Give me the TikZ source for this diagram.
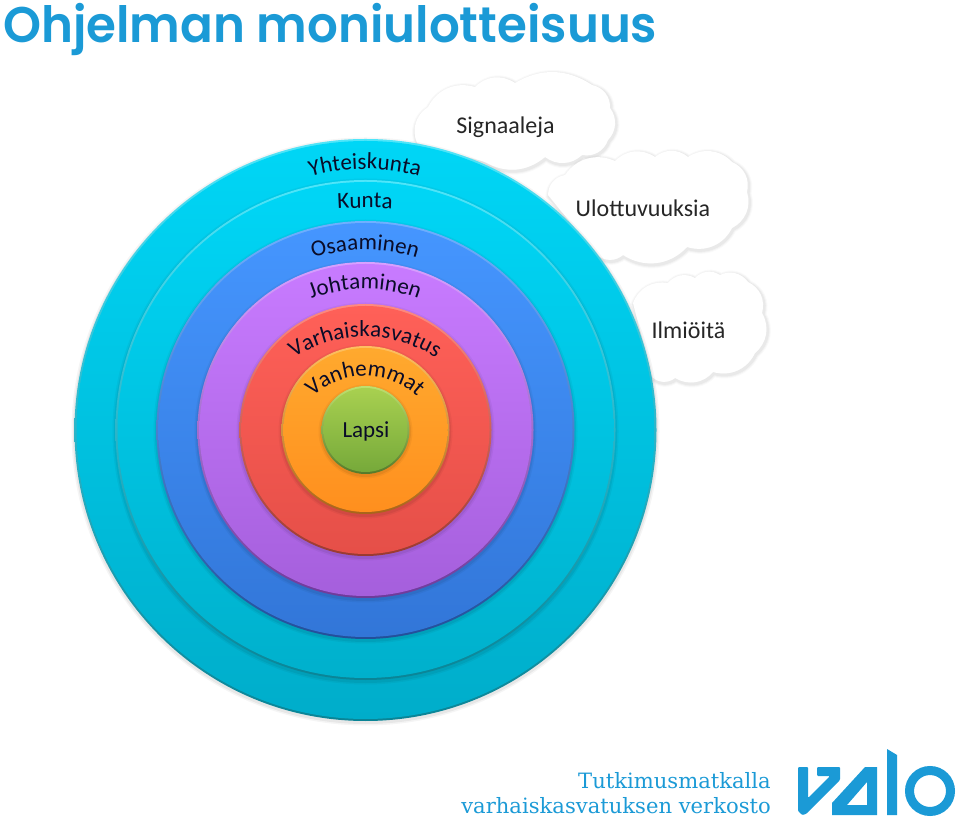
\documentclass[tikz,border=0pt]{standalone}
\usepackage{fontspec}
\usetikzlibrary{decorations.text}
\setmainfont{Carlito}
\newfontfamily\titlefont{Poppins SemiBold}
\newfontfamily\footfont{DejaVu Serif}
\definecolor{valoblue}{HTML}{1B9AD6}
\definecolor{labelink}{HTML}{0A0C28}
\tikzset{
  puff/.style={bend left=40},
  cloudtext/.style={black!85,font=\fontsize{24}{28}\selectfont,anchor=base},
  foottext/.style={valoblue,anchor=base east,inner sep=0pt,font=\footfont\fontsize{21.1}{24}\selectfont}
}
\newcommand{\cloudshape}[1]{
  \foreach \sw/\so in {7pt/0.02,5pt/0.03,3pt/0.04}
    \draw[black,line width=\sw,opacity=\so,shift={(1,-1.5)}] #1;
  \fill[white] #1;
}
\newcommand{\ringlabel}[3]{
  \path[decorate,decoration={text along path,text align=center,
    text={|\fontsize{23}{26}\selectfont\color{labelink}|#3}}]
    (365,#1-#2)+(150:#2) arc[start angle=150,end angle=30,radius=#2];
}
\begin{document}
\begin{tikzpicture}[x=1pt,y=1pt]
\useasboundingbox (0,0) rectangle (960,819);
\node[valoblue,anchor=base west,inner sep=0pt,xscale=0.967,font=\titlefont\fontsize{50}{60}\selectfont] (title) at (3,776) {Ohjelman moniulotteisuus};
% clouds behind the rings
\cloudshape{(417,676) to[puff] (428,712) to[puff] (475,732) to[puff] (515,736) to[bend left=32] (592,734) to[puff] (610,711) to[puff] (608,679) to[puff] (582,664) to[puff] (545,662) to[bend left=35] (485,657) -- cycle}
\cloudshape{(548,624) to[puff] (565,644) to[puff] (615,658) to[puff] (655,662) to[puff] (688,662) to[puff] (732,657) to[puff] (747,627) to[puff] (732,591) to[puff] (687,572) to[puff] (623,564) to[puff] (597,564) -- cycle}
\cloudshape{(633,516) to[puff] (668,536) to[puff] (695,541) to[puff] (720,544) to[puff] (748,537) to[puff] (762,506) to[puff] (755,466) to[puff] (713,447) to[puff] (675,441) to[puff] (652,442) -- cycle}
\node[cloudtext] (signals) at (505.5,685) {Signaaleja};
\node[cloudtext] (dimensions) at (643,602) {Ulottuvuuksia};
\node[cloudtext] (phenomena) at (688.5,480) {Ilmiöitä};
% rings, outermost first
\foreach \rad/\lite/\tone/\deep/\edge in {
  291/4FE6FA/00D6F6/00ADCA/0A8496,
  250/4FE6FA/00D6F6/00B0CC/0A8496,
  209/6FB0FF/4596FF/3276D8/234F9A,
  168/D8A0FF/C87BFF/A55FDC/6E3A9A,
  126/FF8A80/FF6058/E54F48/9A3A30,
  84/FFC060/FFA92E/FF8F1E/A8641A,
  44/BEE070/A8D050/76A93A/557A2A}{
  \definecolor{ringlite}{HTML}{\lite}
  \definecolor{ringtone}{HTML}{\tone}
  \definecolor{ringdeep}{HTML}{\deep}
  \definecolor{ringedge}{HTML}{\edge}
  \foreach \sw/\so in {3/0.04,1.5/0.06}
    \fill[black,opacity=\so] (365.5,387.5) circle (\rad+\sw);
  \shade[top color=ringlite,middle color=ringtone,bottom color=ringedge] (365.5,389) circle (\rad);
  \shade[top color=ringtone,bottom color=ringdeep] (365.5,389) circle (\rad-2);
}
\ringlabel{650}{200}{Yhteiskunta}
\ringlabel{611}{500}{Kunta}
\ringlabel{569}{170}{Osaaminen}
\ringlabel{530}{150}{Johtaminen}
\ringlabel{482}{130}{Varhaiskasvatus}
\ringlabel{443}{76}{Vanhemmat}
\node[labelink,anchor=base,font=\fontsize{23}{26}\selectfont] (child) at (366,381) {Lapsi};
% footer and logo
\node[foottext] (foota) at (771,31) {Tutkimusmatkalla};
\node[foottext] (footb) at (771,6) {varhaiskasvatuksen verkosto};
\fill[valoblue,rounded corners=1pt] (798,52) -- (808,52) -- (808,21) -- (830,43) -- (817,43) -- (817,52) -- (840,52) -- (840,39) -- (806,5) -- (802,4) -- (798,8) -- cycle;
\fill[valoblue,even odd rule] (865,52) -- (877,52) -- (877,4) -- (832,4) -- (832,16) -- cycle
  (867,37) -- (867,14) -- (847,14) -- cycle;
\fill[valoblue] (887,70) -- (897,64) -- (897,4) -- (887,4) -- cycle;
\draw[valoblue,line width=9pt] (930,28) circle (20.5);
\end{tikzpicture}
\end{document}
